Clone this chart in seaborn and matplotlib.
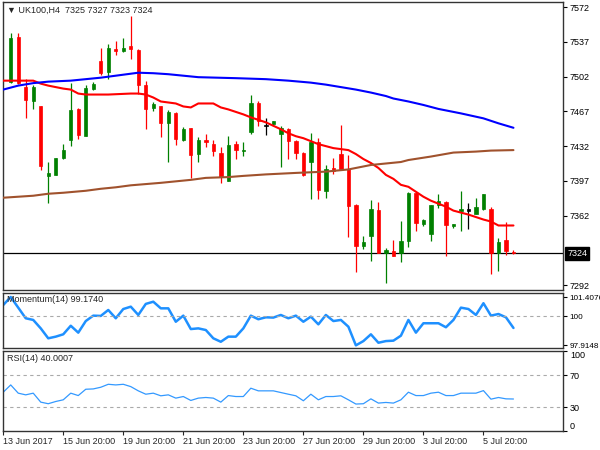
import matplotlib
matplotlib.use('Agg')
import matplotlib.pyplot as plt
import seaborn as sns
import numpy as np

# UK100 H4 candles, index 0 = first visible bar
opens = [7497, 7542, 7492, 7477, 7472, 7402, 7403, 7420, 7438, 7469,
         7442, 7490, 7518, 7507, 7530, 7528, 7533, 7529, 7494, 7470,
         7472, 7455, 7465, 7438, 7450, 7424, 7438, 7434, 7425, 7397,
         7434, 7427, 7446, 7475, 7452, 7454, 7444, 7449, 7437, 7425,
         7416, 7436, 7387, 7410, 7424, 7409, 7373, 7331, 7341, 7368,
         7324, 7326, 7324, 7336, 7385, 7354, 7343, 7373, 7376, 7351.5,
         7367, 7367, 7364, 7369, 7369, 7324, 7337, 7325]
highs = [7546, 7546, 7500, 7494, 7472.5, 7416, 7420, 7434, 7496, 7470,
         7494, 7497, 7531, 7535, 7538, 7541, 7563, 7530, 7498, 7476,
         7472.5, 7468.5, 7466, 7451, 7450, 7441, 7444, 7438, 7431.5, 7442,
         7437, 7436, 7484, 7477, 7460, 7457.5, 7452, 7450, 7438, 7426.5,
         7445, 7440, 7413, 7420, 7453, 7423, 7374, 7341, 7378, 7376,
         7329, 7337, 7357, 7386, 7386, 7359, 7373, 7384, 7377, 7354,
         7387, 7375, 7380, 7384, 7370.5, 7339, 7356, 7327]
lows = [7496, 7495, 7460, 7469, 7408, 7375, 7403, 7419, 7432, 7439,
        7442, 7489, 7504, 7500, 7524, 7527, 7520, 7485, 7449, 7467,
        7441, 7416, 7433, 7437, 7400, 7416, 7431, 7422, 7395, 7397,
        7419, 7422, 7444, 7452, 7443, 7452, 7411, 7419, 7419, 7402,
        7379, 7379, 7380, 7404, 7409, 7340, 7305, 7328, 7316, 7324,
        7294, 7321, 7315, 7330, 7346, 7351, 7336, 7370, 7321, 7349,
        7346.5, 7348.5, 7364, 7368, 7303, 7306.5, 7322, 7323]
closes = [7541, 7496, 7478, 7492, 7412, 7405, 7420, 7428, 7468, 7443,
          7491, 7495, 7506, 7531, 7528, 7531, 7530, 7494, 7469, 7474,
          7455, 7466, 7439, 7449, 7423, 7438, 7436, 7427, 7401, 7433,
          7428, 7428, 7475, 7457, 7452, 7457, 7450, 7437, 7425, 7403,
          7436, 7388, 7409, 7407, 7409, 7372, 7331, 7335, 7369, 7324,
          7327, 7321, 7336, 7385, 7355, 7358, 7373, 7377, 7353, 7353.5,
          7368.7, 7367, 7371, 7384, 7324, 7335, 7326, 7324]

# moving averages, read at a set of bar positions
ma_fast_x = [-1, 3, 4, 5, 7, 8, 9, 10, 13, 16, 17, 18, 19, 20, 22, 23, 24, 25,
             27, 28, 29, 31, 32, 34, 36, 37, 38, 39, 41, 43, 45, 46, 47, 48, 49,
             50, 51, 52, 53, 54, 55, 56, 58, 59, 60, 61, 62, 63, 64, 65, 67]
ma_fast_y = [7498, 7498, 7495, 7493, 7490, 7489, 7485, 7484, 7484, 7485, 7485,
             7484, 7481, 7477, 7475, 7472, 7471, 7475, 7475, 7471, 7469, 7464,
             7461, 7456, 7449, 7445, 7442, 7440, 7434, 7430, 7428, 7424, 7419,
             7415, 7410, 7403, 7399, 7393, 7391, 7386, 7381, 7377, 7371, 7367,
             7365, 7363, 7360.5, 7358, 7356, 7352, 7352]
ma_mid_x = [-1, 1, 3, 5, 8, 10, 12, 14, 16, 17, 19, 21, 23, 25, 30, 34, 37, 40,
            42, 44, 46, 48, 50, 51, 53, 55, 57, 60, 63, 65, 67]
ma_mid_y = [7489, 7493, 7495.5, 7497, 7498, 7499.5, 7501, 7503, 7505, 7506,
            7505.5, 7504.5, 7503, 7501.5, 7500.5, 7499.5, 7498, 7496, 7494,
            7491.5, 7489, 7486, 7482.5, 7480, 7477, 7473.5, 7469.5, 7465, 7460,
            7455, 7450.5]
ma_slow_x = [-1, 3, 5, 7, 10, 12, 14, 16, 20, 24, 26, 29, 31, 34, 38, 42, 45,
             48, 50, 52, 53, 56, 59, 62, 64, 67]
ma_slow_y = [7380, 7382, 7384, 7385, 7387, 7389, 7390.5, 7392.5, 7395, 7398,
             7400, 7400.8, 7402, 7403.5, 7405, 7406.3, 7408.5, 7413, 7414.5,
             7416, 7418, 7421.5, 7425.5, 7426.5, 7427.5, 7428]

momentum = [100.83, 101.41, 100.64, 99.87, 99.75, 99.14, 98.42, 98.54, 98.71,
            99.33, 98.83, 99.67, 100.06, 100.04, 100.47, 99.87, 100.54, 100.71,
            100.11, 100.91, 101.07, 100.59, 100.59, 99.62, 100.06, 99.09, 99.14,
            99.02, 98.42, 98.17, 98.54, 98.54, 99.14, 100.06, 99.80, 99.94,
            99.92, 100.11, 99.87, 100.06, 99.62, 99.99, 99.43, 100.11, 99.67,
            99.75, 99.26, 97.91, 98.22, 98.71, 98.10, 98.22, 98.25, 98.61,
            99.75, 98.83, 99.51, 99.51, 99.51, 99.22, 99.75, 100.64, 100.54,
            100.11, 100.96, 100.06, 100.18, 99.94, 99.17]
rsi = [48.5, 57.6, 47.3, 45.2, 47.3, 36.1, 34.1, 36.9, 39.0, 47.3, 44.3, 52.2,
       52.6, 54.7, 58.4, 57.6, 58.4, 55.5, 50.2, 46.0, 47.3, 44.0, 45.2, 41.1,
       43.1, 38.2, 41.1, 41.9, 41.1, 36.1, 44.3, 43.1, 43.1, 53.5, 50.2, 50.2,
       50.2, 48.1, 46.0, 44.0, 37.8, 46.0, 39.0, 43.1, 43.1, 44.0, 39.0, 33.7,
       34.1, 40.2, 34.9, 35.7, 34.9, 39.0, 48.5, 44.3, 44.3, 47.3, 48.5, 44.3,
       44.3, 47.3, 47.3, 47.3, 50.5, 39.8, 41.9, 40.2, 40.0]
ind_x = list(range(-1, 68))

price_ticks = [7292, 7362, 7397, 7432, 7467, 7502, 7537, 7572]
last_price = 7324
date_ticks = [-1, 7, 15, 23, 31, 39, 47, 55, 63]
date_labels = ['13 Jun 2017', '15 Jun 20:00', '19 Jun 20:00', '21 Jun 20:00',
               '23 Jun 20:00', '27 Jun 20:00', '29 Jun 20:00', '3 Jul 20:00',
               '5 Jul 20:00']

sns.set_style('white')
plt.rcParams['font.family'] = ['Liberation Sans', 'DejaVu Sans']

fig = plt.figure(figsize=(6, 4.5), dpi=100)
ax = fig.add_axes([0.005, 0.3556, 0.9333, 0.64])
ax_m = fig.add_axes([0.005, 0.2267, 0.9333, 0.1222])
ax_r = fig.add_axes([0.005, 0.0422, 0.9333, 0.1778])

xlim = (-1.03, 73.6)
green, red = '#008000', '#ff0000'

# candles
for i in range(len(opens)):
    o, h, l, c = opens[i], highs[i], lows[i], closes[i]
    if c > o:
        col = green
    elif c < o:
        col = red
    else:
        col = 'black'
    ax.vlines(i, l, h, color=col, lw=0.9, zorder=3)
    bottom = min(o, c)
    height = max(abs(c - o), 1.2)
    ax.bar(i, height, bottom=bottom, width=0.45, color=col, edgecolor=col,
           lw=0.5, zorder=4)

sns.lineplot(x=ma_fast_x, y=ma_fast_y, ax=ax, color='#ff0000', lw=1.5, zorder=5)
sns.lineplot(x=ma_mid_x, y=ma_mid_y, ax=ax, color='#0000ff', lw=1.5, zorder=5)
sns.lineplot(x=ma_slow_x, y=ma_slow_y, ax=ax, color='#a0522d', lw=1.5, zorder=5)
ax.axhline(last_price, color='black', lw=0.9, zorder=2)

ax.set_xlim(*xlim)
ax.set_ylim(7287, 7577.3)
ax.set_yticks(price_ticks)
ax.set_xticks([])
ax.text(0.008, 0.972, '\u25bc UK100,H4  7325 7327 7323 7324', transform=ax.transAxes,
        va='center', ha='left', fontsize=6.5)
ax.annotate(str(last_price), xy=(1.0, last_price), xycoords=('axes fraction', 'data'),
            xytext=(3, 0), textcoords='offset points', va='center', ha='left',
            fontsize=6.5, color='white',
            bbox=dict(boxstyle='square,pad=0.25', fc='black', ec='black'))

# momentum
sns.lineplot(x=ind_x, y=momentum, ax=ax_m, color='#1e90ff', lw=1.8)
ax_m.axhline(100, color='#aaaaaa', lw=0.8, ls=(0, (3, 3)))
ax_m.set_xlim(*xlim)
ax_m.set_ylim(97.72, 101.70)
ax_m.set_yticks([97.9148, 100, 101.4076])
ax_m.set_yticklabels(['97.9148', '100', '101.4076'])
ax_m.set_xticks([])
ax_m.text(0.008, 0.873, 'Momentum(14) 99.1740', transform=ax_m.transAxes,
          va='center', ha='left', fontsize=6.5)

# rsi
sns.lineplot(x=ind_x, y=rsi, ax=ax_r, color='#3399ff', lw=0.9)
for lv in (30, 70):
    ax_r.axhline(lv, color='#aaaaaa', lw=0.8, ls=(0, (3, 3)))
ax_r.set_xlim(*xlim)
ax_r.set_ylim(0, 100)
ax_r.set_yticks([0, 30, 70, 100])
ax_r.set_yticklabels(['0', '30', '70', '100'])
ax_r.set_xticks(date_ticks)
ax_r.set_xticklabels(date_labels, ha='left')
ax_r.text(0.008, 0.9125, 'RSI(14) 40.0007', transform=ax_r.transAxes,
          va='center', ha='left', fontsize=6.5)

for a in (ax, ax_m, ax_r):
    a.set_xlabel('')
    a.set_ylabel('')
    a.yaxis.tick_right()
    a.tick_params(axis='y', direction='out', length=3, width=0.8, labelsize=6.5,
                  pad=2, colors='black', right=True, left=False)
    for s in a.spines.values():
        s.set_color('#333333')
        s.set_linewidth(1.0)
    if a.get_legend() is not None:
        a.get_legend().remove()
ax_r.tick_params(axis='x', direction='out', length=3, width=0.8, labelsize=6.5,
                 pad=1.5, bottom=True)
# long momentum values need a slightly smaller face to fit the margin
ax_m.tick_params(axis='y', labelsize=5.9, pad=1.5)

# keep the 0 / 100 RSI labels inside the panel, as the platform does
rticks = ax_r.yaxis.get_major_ticks()
rticks[0].label2.set_va('bottom')
rticks[-1].label2.set_va('top')

fig.savefig('out.png', dpi=100)
